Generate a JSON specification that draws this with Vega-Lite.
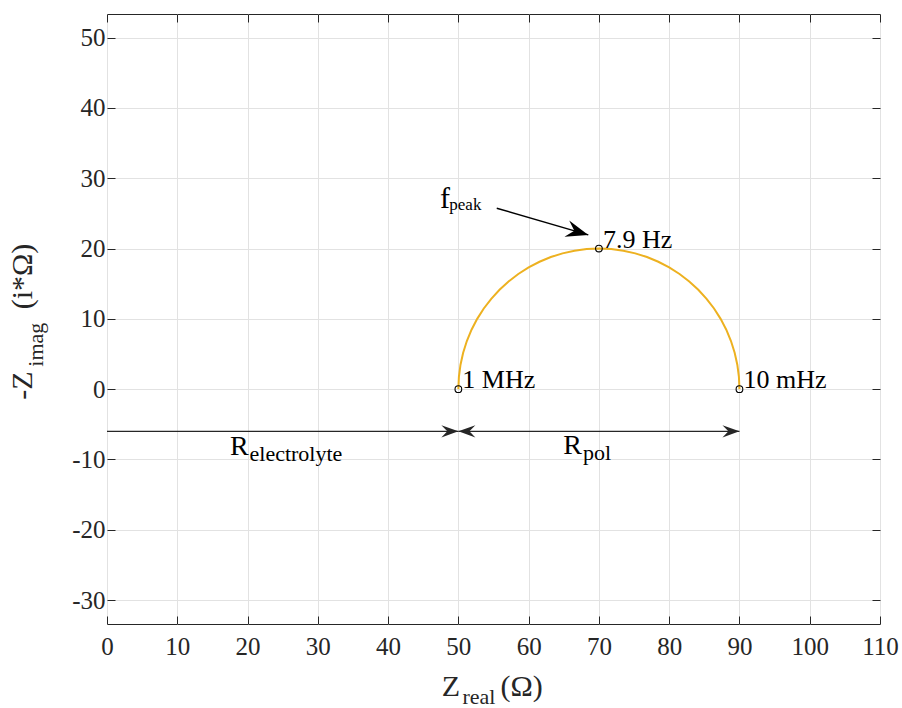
{
  "$schema": "https://vega.github.io/schema/vega-lite/v6.json",
  "width": 773,
  "height": 610,
  "autosize": {"type": "none"},
  "padding": {"left": 107, "top": 14, "right": 22, "bottom": 84},
  "background": "white",
  "config": {
    "font": "Liberation Serif",
    "view": {"stroke": "#262626", "strokeWidth": 1},
    "axis": {
      "domain": false,
      "labelFont": "Liberation Serif",
      "labelFontSize": 25,
      "labelColor": "#262626",
      "labelFlush": false,
      "labelOverlap": false,
      "labelExpr": "datum.value < 0 ? '-' + abs(datum.value) : '' + datum.value",
      "tickColor": "#262626",
      "tickWidth": 1,
      "tickSize": -8,
      "gridColor": "#e2e2e2",
      "gridWidth": 1
    }
  },
  "datasets": {
    "nyquist": [
      {"z_real": 50, "z_imag": 0},
      {"z_real": 50.076, "z_imag": 1.743},
      {"z_real": 50.304, "z_imag": 3.473},
      {"z_real": 50.681, "z_imag": 5.176},
      {"z_real": 51.206, "z_imag": 6.84},
      {"z_real": 51.874, "z_imag": 8.452},
      {"z_real": 52.679, "z_imag": 10},
      {"z_real": 53.617, "z_imag": 11.472},
      {"z_real": 54.679, "z_imag": 12.856},
      {"z_real": 55.858, "z_imag": 14.142},
      {"z_real": 57.144, "z_imag": 15.321},
      {"z_real": 58.528, "z_imag": 16.383},
      {"z_real": 60, "z_imag": 17.321},
      {"z_real": 61.548, "z_imag": 18.126},
      {"z_real": 63.16, "z_imag": 18.794},
      {"z_real": 64.824, "z_imag": 19.319},
      {"z_real": 66.527, "z_imag": 19.696},
      {"z_real": 68.257, "z_imag": 19.924},
      {"z_real": 70, "z_imag": 20},
      {"z_real": 71.743, "z_imag": 19.924},
      {"z_real": 73.473, "z_imag": 19.696},
      {"z_real": 75.176, "z_imag": 19.319},
      {"z_real": 76.84, "z_imag": 18.794},
      {"z_real": 78.452, "z_imag": 18.126},
      {"z_real": 80, "z_imag": 17.321},
      {"z_real": 81.472, "z_imag": 16.383},
      {"z_real": 82.856, "z_imag": 15.321},
      {"z_real": 84.142, "z_imag": 14.142},
      {"z_real": 85.321, "z_imag": 12.856},
      {"z_real": 86.383, "z_imag": 11.472},
      {"z_real": 87.321, "z_imag": 10},
      {"z_real": 88.126, "z_imag": 8.452},
      {"z_real": 88.794, "z_imag": 6.84},
      {"z_real": 89.319, "z_imag": 5.176},
      {"z_real": 89.696, "z_imag": 3.473},
      {"z_real": 89.924, "z_imag": 1.743},
      {"z_real": 90, "z_imag": 0}
    ],
    "markers": [
      {"z_real": 50, "z_imag": 0, "freq": "1 MHz"},
      {"z_real": 70, "z_imag": 20, "freq": "7.9 Hz"},
      {"z_real": 90, "z_imag": 0, "freq": "10 mHz"}
    ],
    "spans": [
      {"name": "R_electrolyte", "from": 0, "to": 50, "level": -6},
      {"name": "R_pol", "from": 50, "to": 90, "level": -6}
    ],
    "heads": [
      {"x": 50, "y": -6, "dir": "right"},
      {"x": 50, "y": -6, "dir": "left"},
      {"x": 90, "y": -6, "dir": "right"}
    ],
    "peak_arrow": [
      {"x": 55.46, "y": 25.74, "x2": 68.49, "y2": 21.94}
    ],
    "x_title_main": [
      {"x": 47.63, "y": -43.6, "text": "Z"},
      {"x": 56.0, "y": -43.6, "text": "(Ω)"}
    ],
    "x_title_sub": [
      {"x": 50.58, "y": -44.85, "text": "real"}
    ],
    "y_title_main": [
      {"x": -10.67, "y": -1.52, "text": "-Z"},
      {"x": -10.67, "y": 11.36, "text": "(i*Ω)"}
    ],
    "y_title_sub": [
      {"x": -9.11, "y": 3.2, "text": "imag"}
    ],
    "r_main": [
      {"x": 17.5, "y": -9.34, "text": "R"},
      {"x": 64.94, "y": -9.24, "text": "R"}
    ],
    "r_sub": [
      {"x": 20.28, "y": -10.27, "text": "electrolyte"},
      {"x": 67.74, "y": -10.05, "text": "pol"}
    ],
    "f_main": [
      {"x": 47.39, "y": 25.74, "text": "f"}
    ],
    "f_sub": [
      {"x": 48.71, "y": 25.5, "text": "peak"}
    ]
  },
  "layer": [
    {
      "data": {"name": "nyquist"},
      "mark": {"type": "line", "color": "#EDB120", "strokeWidth": 2},
      "encoding": {
        "x": {
          "field": "z_real", "type": "quantitative",
          "scale": {"domain": [0, 110], "nice": false, "zero": false},
          "axis": {"orient": "bottom", "values": [0, 10, 20, 30, 40, 50, 60, 70, 80, 90, 100, 110], "grid": true, "title": null, "labelPadding": 18}
        },
        "y": {
          "field": "z_imag", "type": "quantitative",
          "scale": {"domain": [-33.41, 53.37], "nice": false, "zero": false},
          "axis": {"orient": "left", "values": [-30, -20, -10, 0, 10, 20, 30, 40, 50], "grid": true, "title": null, "labelPadding": 10}
        }
      }
    },
    {
      "data": {"name": "markers"},
      "mark": {"type": "point", "shape": "circle", "filled": false, "stroke": "#000000", "strokeWidth": 1.1, "size": 45, "opacity": 1},
      "encoding": {
        "x": {
          "field": "z_real", "type": "quantitative",
          "scale": {"domain": [0, 110], "nice": false, "zero": false},
          "axis": {"orient": "top", "values": [0, 10, 20, 30, 40, 50, 60, 70, 80, 90, 100, 110], "grid": false, "labels": false, "title": null}
        },
        "y": {
          "field": "z_imag", "type": "quantitative",
          "scale": {"domain": [-33.41, 53.37], "nice": false, "zero": false},
          "axis": {"orient": "right", "values": [-30, -20, -10, 0, 10, 20, 30, 40, 50], "grid": false, "labels": false, "title": null}
        }
      }
    },
    {
      "data": {"name": "markers"},
      "mark": {"type": "text", "align": "left", "baseline": "alphabetic", "dx": 4, "dy": -1, "fontSize": 26, "font": "Liberation Serif", "color": "#000000"},
      "encoding": {
        "x": {"field": "z_real", "type": "quantitative", "scale": {"domain": [0, 110], "nice": false, "zero": false}, "axis": null},
        "y": {"field": "z_imag", "type": "quantitative", "scale": {"domain": [-33.41, 53.37], "nice": false, "zero": false}, "axis": null},
        "text": {"field": "freq"}
      }
    },
    {
      "data": {"name": "spans"},
      "mark": {"type": "rule", "color": "#262626", "strokeWidth": 1.3},
      "encoding": {
        "x": {"field": "from", "type": "quantitative", "scale": {"domain": [0, 110], "nice": false, "zero": false}, "axis": null},
        "x2": {"field": "to"},
        "y": {"field": "level", "type": "quantitative", "scale": {"domain": [-33.41, 53.37], "nice": false, "zero": false}, "axis": null}
      }
    },
    {
      "data": {"name": "heads"},
      "mark": {"type": "point", "filled": true, "color": "#262626", "opacity": 1, "size": 1156, "strokeWidth": 0},
      "encoding": {
        "x": {"field": "x", "type": "quantitative", "scale": {"domain": [0, 110], "nice": false, "zero": false}, "axis": null},
        "y": {"field": "y", "type": "quantitative", "scale": {"domain": [-33.41, 53.37], "nice": false, "zero": false}, "axis": null},
        "shape": {
          "field": "dir", "type": "nominal",
          "scale": {"domain": ["right", "left"], "range": ["M 0 0 L -1 -0.36 L -0.65 0 L -1 0.36 Z", "M 0 0 L 1 -0.36 L 0.65 0 L 1 0.36 Z"]},
          "legend": null
        }
      }
    },
    {
      "data": {"name": "peak_arrow"},
      "mark": {"type": "rule", "color": "#000000", "strokeWidth": 1.4},
      "encoding": {
        "x": {"field": "x", "type": "quantitative", "scale": {"domain": [0, 110], "nice": false, "zero": false}, "axis": null},
        "y": {"field": "y", "type": "quantitative", "scale": {"domain": [-33.41, 53.37], "nice": false, "zero": false}, "axis": null},
        "x2": {"field": "x2"},
        "y2": {"field": "y2"}
      }
    },
    {
      "data": {"name": "peak_arrow"},
      "mark": {"type": "point", "filled": true, "color": "#000000", "opacity": 1, "size": 2000, "strokeWidth": 0, "angle": 16.3, "shape": "M 0 0 L -1 -0.38 L -0.65 0 L -1 0.38 Z"},
      "encoding": {
        "x": {"field": "x2", "type": "quantitative", "scale": {"domain": [0, 110], "nice": false, "zero": false}, "axis": null},
        "y": {"field": "y2", "type": "quantitative", "scale": {"domain": [-33.41, 53.37], "nice": false, "zero": false}, "axis": null}
      }
    },
    {
      "data": {"name": "x_title_main"},
      "mark": {"type": "text", "align": "left", "baseline": "alphabetic", "fontSize": 30, "font": "Liberation Serif", "color": "#262626"},
      "encoding": {
        "x": {"field": "x", "type": "quantitative", "scale": {"domain": [0, 110], "nice": false, "zero": false}, "axis": null},
        "y": {"field": "y", "type": "quantitative", "scale": {"domain": [-33.41, 53.37], "nice": false, "zero": false}, "axis": null},
        "text": {"field": "text"}
      }
    },
    {
      "data": {"name": "x_title_sub"},
      "mark": {"type": "text", "align": "left", "baseline": "alphabetic", "fontSize": 22, "font": "Liberation Serif", "color": "#262626"},
      "encoding": {
        "x": {"field": "x", "type": "quantitative", "scale": {"domain": [0, 110], "nice": false, "zero": false}, "axis": null},
        "y": {"field": "y", "type": "quantitative", "scale": {"domain": [-33.41, 53.37], "nice": false, "zero": false}, "axis": null},
        "text": {"field": "text"}
      }
    },
    {
      "data": {"name": "y_title_main"},
      "mark": {"type": "text", "align": "left", "baseline": "alphabetic", "angle": 270, "fontSize": 30, "font": "Liberation Serif", "color": "#262626"},
      "encoding": {
        "x": {"field": "x", "type": "quantitative", "scale": {"domain": [0, 110], "nice": false, "zero": false}, "axis": null},
        "y": {"field": "y", "type": "quantitative", "scale": {"domain": [-33.41, 53.37], "nice": false, "zero": false}, "axis": null},
        "text": {"field": "text"}
      }
    },
    {
      "data": {"name": "y_title_sub"},
      "mark": {"type": "text", "align": "left", "baseline": "alphabetic", "angle": 270, "fontSize": 22, "font": "Liberation Serif", "color": "#262626"},
      "encoding": {
        "x": {"field": "x", "type": "quantitative", "scale": {"domain": [0, 110], "nice": false, "zero": false}, "axis": null},
        "y": {"field": "y", "type": "quantitative", "scale": {"domain": [-33.41, 53.37], "nice": false, "zero": false}, "axis": null},
        "text": {"field": "text"}
      }
    },
    {
      "data": {"name": "r_main"},
      "mark": {"type": "text", "align": "left", "baseline": "alphabetic", "fontSize": 28, "font": "Liberation Serif", "color": "#000000"},
      "encoding": {
        "x": {"field": "x", "type": "quantitative", "scale": {"domain": [0, 110], "nice": false, "zero": false}, "axis": null},
        "y": {"field": "y", "type": "quantitative", "scale": {"domain": [-33.41, 53.37], "nice": false, "zero": false}, "axis": null},
        "text": {"field": "text"}
      }
    },
    {
      "data": {"name": "r_sub"},
      "mark": {"type": "text", "align": "left", "baseline": "alphabetic", "fontSize": 22, "font": "Liberation Serif", "color": "#000000"},
      "encoding": {
        "x": {"field": "x", "type": "quantitative", "scale": {"domain": [0, 110], "nice": false, "zero": false}, "axis": null},
        "y": {"field": "y", "type": "quantitative", "scale": {"domain": [-33.41, 53.37], "nice": false, "zero": false}, "axis": null},
        "text": {"field": "text"}
      }
    },
    {
      "data": {"name": "f_main"},
      "mark": {"type": "text", "align": "left", "baseline": "alphabetic", "fontSize": 30, "font": "Liberation Serif", "color": "#000000"},
      "encoding": {
        "x": {"field": "x", "type": "quantitative", "scale": {"domain": [0, 110], "nice": false, "zero": false}, "axis": null},
        "y": {"field": "y", "type": "quantitative", "scale": {"domain": [-33.41, 53.37], "nice": false, "zero": false}, "axis": null},
        "text": {"field": "text"}
      }
    },
    {
      "data": {"name": "f_sub"},
      "mark": {"type": "text", "align": "left", "baseline": "alphabetic", "fontSize": 17, "font": "Liberation Serif", "color": "#000000"},
      "encoding": {
        "x": {"field": "x", "type": "quantitative", "scale": {"domain": [0, 110], "nice": false, "zero": false}, "axis": null},
        "y": {"field": "y", "type": "quantitative", "scale": {"domain": [-33.41, 53.37], "nice": false, "zero": false}, "axis": null},
        "text": {"field": "text"}
      }
    }
  ],
  "resolve": {"axis": {"x": "independent", "y": "independent"}}
}
